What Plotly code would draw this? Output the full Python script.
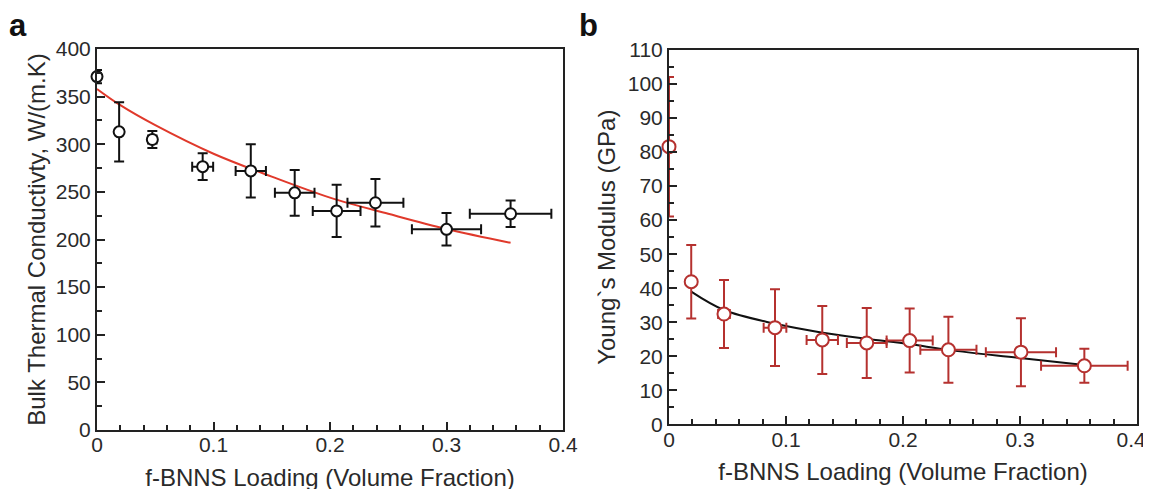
import plotly.graph_objects as go

# ---------------- Panel a: thermal conductivity ----------------
a_x = [0.0, 0.019, 0.0475, 0.0907, 0.132, 0.1697, 0.2057, 0.239, 0.300, 0.355]
a_y = [371, 313, 305, 276.5, 272, 249, 230, 238.6, 210.7, 227]
a_yerr = [7, 31, 9, 14, 28, 24, 27.5, 25, 17, 14]
a_xerr = [0, 0, 0.0036, 0.009, 0.013, 0.017, 0.0205, 0.024, 0.0297, 0.035]

a_fit_x = [0.0, 0.02, 0.05, 0.1, 0.15, 0.2, 0.25, 0.3, 0.355]
a_fit_y = [358, 341, 320, 290, 266, 244, 227, 211, 196.5]

# ---------------- Panel b: Young's modulus ----------------
b_x = [0.0, 0.019, 0.047, 0.0906, 0.131, 0.169, 0.2057, 0.2388, 0.3008, 0.355]
b_y = [81.6, 41.9, 32.4, 28.4, 24.8, 23.9, 24.6, 21.9, 21.2, 17.2]
b_yerr = [20.5, 10.8, 10, 11.3, 10, 10.3, 9.4, 9.7, 10, 5]
b_xerr = [0, 0, 0.005, 0.0097, 0.0134, 0.017, 0.0197, 0.024, 0.030, 0.037]

b_fit_x = [0.019, 0.047, 0.09, 0.13, 0.17, 0.205, 0.24, 0.3, 0.355]
b_fit_y = [39.0, 33.6, 29.6, 27.0, 25.1, 23.6, 21.8, 19.5, 17.4]

x_tickvals = [0, 0.1, 0.2, 0.3, 0.4]
x_ticktext = ["0", "0.1", "0.2", "0.3", "0.4"]
x_title = "f-BNNS Loading (Volume Fraction)"
a_y_title = "Bulk Thermal Conductivty, W/(m.K)"
b_y_title = "Young`s Modulus (GPa)"

FONT = "Liberation Sans, Arial, sans-serif"
AXC = "#222222"
RED_FIT = "#e0392b"
RED_B = "#b5312f"

W, H = 1151, 489
OFF = 8  # page body margin


def dx(px):
    return (px - OFF) / W


def dy(py):
    return 1 - (py - OFF) / H


fig = go.Figure()

fig.add_trace(go.Scatter(
    x=a_fit_x, y=a_fit_y, mode="lines", line=dict(color=RED_FIT, width=2, shape="spline"),
    xaxis="x", yaxis="y", showlegend=False, hoverinfo="skip"))
fig.add_trace(go.Scatter(
    x=a_x, y=a_y, mode="markers",
    marker=dict(symbol="circle", size=11, color="white", line=dict(color="#111111", width=2)),
    error_y=dict(type="data", array=a_yerr, visible=True, color="#111111", thickness=2, width=5),
    error_x=dict(type="data", array=a_xerr, visible=True, color="#111111", thickness=2, width=5),
    xaxis="x", yaxis="y", showlegend=False, cliponaxis=False))

fig.add_trace(go.Scatter(
    x=b_fit_x, y=b_fit_y, mode="lines", line=dict(color="#111111", width=2, shape="spline"),
    xaxis="x2", yaxis="y2", showlegend=False, hoverinfo="skip"))
fig.add_trace(go.Scatter(
    x=b_x, y=b_y, mode="markers",
    marker=dict(symbol="circle", size=13, color="white", line=dict(color=RED_B, width=2)),
    error_y=dict(type="data", array=b_yerr, visible=True, color=RED_B, thickness=2, width=5),
    error_x=dict(type="data", array=b_xerr, visible=True, color=RED_B, thickness=2, width=5),
    xaxis="x2", yaxis="y2", showlegend=False, cliponaxis=False))

tickfont = dict(family=FONT, size=21, color="#2a2a2a")
titlefont = dict(family=FONT, size=24, color="#2a2a2a")


def xaxis(domain, anchor, ticktext):
    return dict(domain=domain, anchor=anchor, range=[0, 0.4], tickvals=x_tickvals,
                ticktext=ticktext, automargin=False,
                ticks="inside", ticklen=8, tickwidth=2, tickcolor=AXC, ticklabelstandoff=-5,
                minor=dict(ticks="inside", ticklen=5, tickwidth=1.5, tickcolor=AXC, dtick=0.02, showgrid=False),
                showline=True, linewidth=2, linecolor=AXC, mirror=True,
                showgrid=False, zeroline=False, tickfont=tickfont,
                title=dict(text=x_title, font=titlefont, standoff=14))


def yaxis(domain, anchor, rng, dt, mdt, title, standoff):
    return dict(domain=domain, anchor=anchor, range=rng, dtick=dt, tick0=0, automargin=False,
                ticks="inside", ticklen=8, tickwidth=2, tickcolor=AXC,
                minor=dict(ticks="inside", ticklen=5, tickwidth=1.5, tickcolor=AXC, dtick=mdt, showgrid=False),
                showline=True, linewidth=2, linecolor=AXC, mirror=True,
                showgrid=False, zeroline=False, tickfont=tickfont,
                title=dict(text=title, font=titlefont, standoff=standoff))


# last label of panel b sits at the page edge; pad it so it stays fully visible
b_ticktext = x_ticktext[:-1] + [x_ticktext[-1] + "\u00a0\u00a0"]

fig.update_layout(
    width=W, height=H,
    margin=dict(l=0, r=0, t=0, b=0),
    paper_bgcolor="white", plot_bgcolor="white",
    xaxis=xaxis([dx(97), dx(563)], "y", x_ticktext),
    yaxis=yaxis([dy(430), dy(49)], "x", [0, 400], 50, 25, a_y_title, 3),
    xaxis2=xaxis([dx(669), dx(1137)], "y2", b_ticktext),
    yaxis2=yaxis([dy(424.3), dy(50)], "x2", [0, 110], 10, 5, b_y_title, 5),
    annotations=[
        dict(text="<b>a</b>", xref="paper", yref="paper", x=dx(18), y=dy(6),
             xanchor="center", yanchor="top", showarrow=False,
             font=dict(family=FONT, size=31, color="#111111")),
        dict(text="<b>b</b>", xref="paper", yref="paper", x=dx(588), y=dy(6),
             xanchor="center", yanchor="top", showarrow=False,
             font=dict(family=FONT, size=31, color="#111111")),
    ],
)

fig.write_html("out.html")
